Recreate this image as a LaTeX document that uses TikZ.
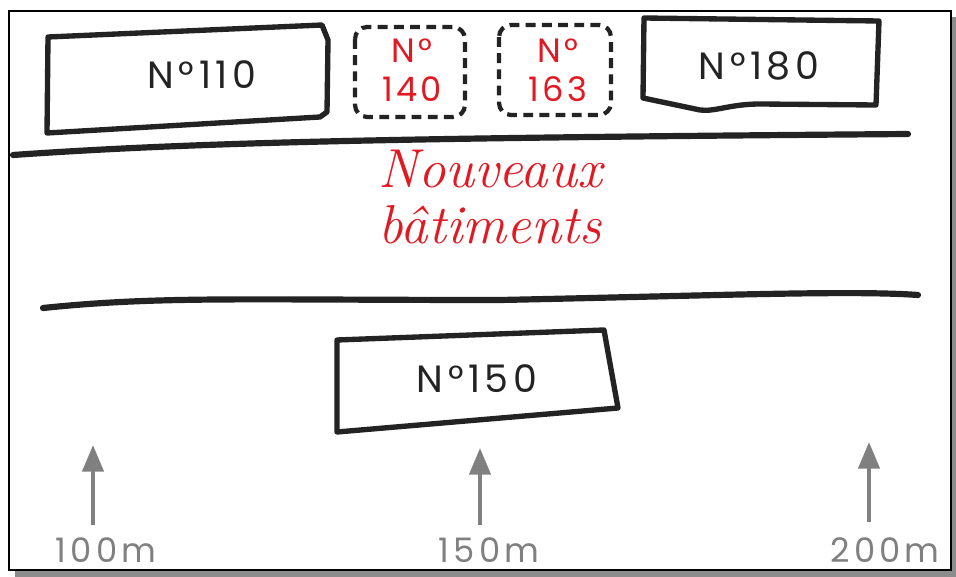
\documentclass[tikz,border=0pt]{standalone}
\usepackage{fontspec}
\usepackage{xcolor}
\usepackage{tikz}
\usetikzlibrary{arrows.meta, positioning, calc}
\newfontfamily\sketchfont[LetterSpace=12]{Poppins}
\newfontfamily\sketchfontred[LetterSpace=10]{Poppins}
\definecolor{sketchblack}{RGB}{35, 35, 35}
\definecolor{sketchred}{RGB}{225, 25, 35}
\definecolor{sketchgray}{RGB}{128, 128, 128}
\definecolor{shadowgray}{RGB}{140, 140, 140}
\tikzset{
    building/.style={
        draw=sketchblack, line width=3.8pt, line join=round, line cap=round
    },
    road/.style={
        draw=sketchblack, line width=4.4pt, line cap=round
    },
    blabel/.style={
        font=\sketchfont\fontsize{27}{30}\selectfont, text=sketchblack
    }
}

\begin{document}
\begin{tikzpicture}[
        x=0.025cm, y=-0.025cm,
        % --- STYLE ---
        newbuilding/.style={draw=sketchblack, line width=3pt, dashed, dash pattern=on 7pt off 4.5pt, rounded corners=0.3cm},
        redlabel/.style={font=\sketchfontred\fontsize{24}{28}\selectfont, text=sketchred, align=center},
        titletext/.style={font=\itshape\fontsize{39}{40}\selectfont, text=sketchred, align=center},
        distarrow/.style={-{Triangle[width=15pt,length=19pt]}, line width=3pt, sketchgray},
        distlabel/.style={font=\sketchfont\fontsize{24}{26}\selectfont, text=sketchgray}
    ]
        \useasboundingbox (0,0) rectangle (956,577);

        % ==========================================
        % CADRE
        % ==========================================
        \fill[shadowgray] (15,17) rectangle (956,577);
        \filldraw[fill=white, draw=black, line width=0.8pt] (9,11) rectangle (951,570);

        % ==========================================
        % RANGEE DU HAUT
        % ==========================================
        \draw[building] (48,37) -- (322,25) -- (328,40) -- (327,112) -- (320,117) -- (47,133) -- cycle;
        \node[blabel] (n110) at (202,75) {N°110};

        \draw[newbuilding] (355,27) rectangle (465,117);
        \node[redlabel] (n140) at (412,70) {N°\\140};

        \draw[newbuilding] (499,25) rectangle (611,115);
        \node[redlabel] (n163) at (558,70) {N°\\163};

        \draw[building] (644,18) -- (879,21) -- (876,105) -- (760,104)
            .. controls (730,104) and (715,112) .. (700,110) -- (643,98) -- cycle;
        \node[blabel] (n180) at (759,66) {N°180};

        % ==========================================
        % RUE
        % ==========================================
        \draw[road] (13,155) .. controls (200,142) and (400,138) .. (908,134);
        \node[titletext] (newb) at (490,197) {Nouveaux\\bâtiments};
        \draw[road] (43,308) .. controls (160,296) and (240,300) .. (500,300)
            .. controls (700,296) and (850,290) .. (918,295);

        % ==========================================
        % RANGEE DU BAS
        % ==========================================
        \draw[building] (337,340) -- (604,330) -- (618,408) -- (337,432) -- cycle;
        \node[blabel] (n150) at (477,379) {N°150};

        % ==========================================
        % DISTANCES
        % ==========================================
        \node[distlabel] (d100) at (106,550) {100m};
        \node[distlabel] (d150) at (489,550) {150m};
        \node[distlabel] (d200) at (885,550) {200m};
        \coordinate (t100) at (93,445);
        \coordinate (t150) at (480,448);
        \coordinate (t200) at (869,442);
        \draw[distarrow] (93,525) -- (t100);
        \draw[distarrow] (480,525) -- (t150);
        \draw[distarrow] (869,522) -- (t200);

    \end{tikzpicture}
\end{document}
